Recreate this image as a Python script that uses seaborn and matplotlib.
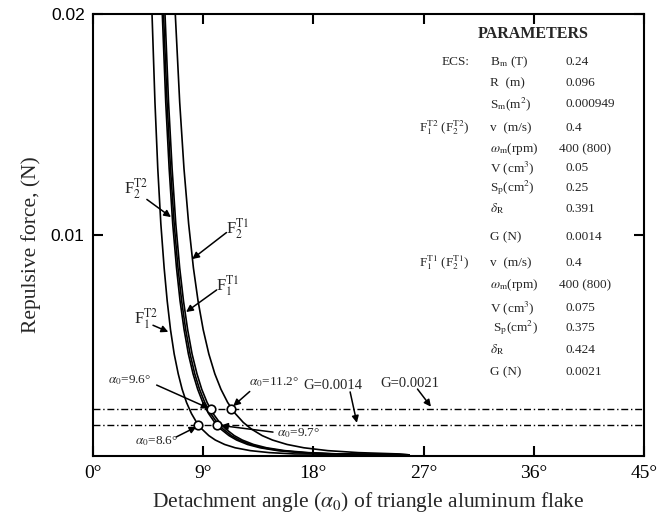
import matplotlib
matplotlib.use("Agg")
import matplotlib.pyplot as plt
import pandas as pd
import seaborn as sns

# ---------------- data ----------------
force_levels = [0.0200, 0.0160, 0.0130, 0.0105, 0.0085, 0.0070, 0.0057, 0.0046,
                0.0037, 0.0030, 0.0024, 0.0019, 0.0015, 0.0012, 0.0009, 0.0007,
                0.0005, 0.00035, 0.00022, 0.00013, 0.00007, 0.00003]

angle_F1_T2 = [4.82, 5.06, 5.29, 5.54, 5.81, 6.06, 6.33, 6.63, 6.96, 7.28, 7.64,
               8.04, 8.46, 8.89, 9.46, 9.99, 10.75, 11.61, 12.85, 14.41, 16.48, 25.8]
angle_F2_T2 = [5.66, 5.94, 6.22, 6.51, 6.82, 7.11, 7.44, 7.79, 8.17, 8.55, 8.97,
               9.44, 9.94, 10.43, 11.11, 11.73, 12.62, 13.64, 15.09, 16.92, 19.35, 25.8]
angle_mid = [5.76, 6.05, 6.33, 6.63, 6.94, 7.24, 7.57, 7.93, 8.31, 8.70, 9.13,
             9.61, 10.12, 10.62, 11.30, 11.94, 12.84, 13.88, 15.35, 17.21, 19.69, 25.8]
angle_F1_T1 = [5.88, 6.17, 6.46, 6.76, 7.08, 7.39, 7.73, 8.09, 8.49, 8.88, 9.32,
               9.81, 10.33, 10.84, 11.54, 12.19, 13.11, 14.17, 15.67, 17.57, 20.10, 25.8]
angle_F2_T1 = [6.72, 7.08, 7.43, 7.81, 8.20, 8.58, 9.00, 9.46, 9.95, 10.45, 11.00,
               11.62, 12.27, 12.93, 13.82, 14.66, 15.85, 17.22, 19.18, 21.68, 25.03, 25.8]

curve_names = ["F1_T2", "F2_T2", "mid", "F1_T1", "F2_T1"]
curve_angles = [angle_F1_T2, angle_F2_T2, angle_mid, angle_F1_T1, angle_F2_T1]

G_values = [0.0014, 0.0021]
alpha0_angles = [8.6, 10.1, 9.6, 11.3]
alpha0_forces = [0.0014, 0.0014, 0.0021, 0.0021]
alpha0_labels = ["8.6", "9.7", "9.6", "11.2"]

x_ticks = [0, 9, 18, 27, 36, 45]
x_tick_labels = ["0°", "9°", "18°", "27°", "36°", "45°"]
y_ticks = [0.01, 0.02]
y_tick_labels = ["0.01", "0.02"]

param_groups = ["ECS:", "", "",
                r"F$_1^{\mathrm{T2}}$ (F$_2^{\mathrm{T2}}$)", "", "", "", "", "",
                r"F$_1^{\mathrm{T1}}$ (F$_2^{\mathrm{T1}}$)", "", "", "", "", ""]
param_names = [r"B$_\mathrm{m}$ (T)", "R  (m)", r"S$_\mathrm{m}$(m$^2$)",
               "v  (m/s)", r"$\omega_\mathrm{m}$(rpm)", r"V (cm$^3$)", r"S$_\mathrm{p}$(cm$^2$)",
               r"$\delta_\mathrm{R}$", "G (N)",
               "v  (m/s)", r"$\omega_\mathrm{m}$(rpm)", r"V (cm$^3$)", r" S$_\mathrm{p}$(cm$^2$)",
               r"$\delta_\mathrm{R}$", "G (N)"]
param_values = ["0.24", "0.096", "0.000949",
                "0.4", "400 (800)", "0.05", "0.25", "0.391", "0.0014",
                "0.4", "400 (800)", "0.075", "0.375", "0.424", "0.0021"]

# ---------------- style ----------------
sns.set_theme(style="ticks")
plt.rcParams["font.family"] = ["Liberation Serif", "DejaVu Serif"]
plt.rcParams["mathtext.fontset"] = "stix"
plt.rcParams["axes.linewidth"] = 1.5

W, H = 666, 521
fig = plt.figure(figsize=(W / 100, H / 100), dpi=100)
fig.patch.set_facecolor("white")
L, R, T, B = 93, 644, 14, 455.5
ax = fig.add_axes([L / W, 1 - B / H, (R - L) / W, (B - T) / H])
ax.set_facecolor("white")


def fpx(x, y):
    return x / W, 1 - y / H


# curves
frames = [pd.DataFrame({"angle": a, "force": force_levels, "curve": n})
          for n, a in zip(curve_names, curve_angles)]
df = pd.concat(frames, ignore_index=True)
sns.lineplot(data=df, x="angle", y="force", units="curve", estimator=None,
             sort=False, color="black", lw=1.2, ax=ax, legend=False)

# G levels
for g in G_values:
    ax.axhline(g, color="black", lw=1.0, ls=(0, (5, 2, 1, 2)), zorder=2)

# intersection markers
sns.scatterplot(x=alpha0_angles, y=alpha0_forces, s=38, facecolor="white",
                edgecolor="black", linewidth=1.2, zorder=6, ax=ax)

ax.set_xlim(0, 45)
ax.set_ylim(0, 0.02)
ax.set_xticks(x_ticks)
ax.set_xticklabels(x_tick_labels, fontsize=14)
ax.set_yticks(y_ticks)
ax.set_yticklabels(y_tick_labels, fontsize=12.5, family="Liberation Sans")
ax.tick_params(direction="in", length=7, width=1.5, top=True, right=True,
               colors="black")
ax.tick_params(axis="x", pad=7)
ax.tick_params(axis="y", pad=6)
for s in ax.spines.values():
    s.set_linewidth(1.5)
    s.set_color("black")

ax.set_xlabel(r"Detachment angle ($\alpha_0$) of triangle aluminum flake", fontsize=15.5)
ax.set_ylabel("Repulsive force, (N)", fontsize=15.5)
ax.xaxis.set_label_coords(0.5, (B - 490) / (B - T))
ax.yaxis.set_label_coords((41 - L) / (R - L), (B - 245) / (B - T))

# curve labels with arrows
arrow = dict(arrowstyle="-|>", color="black", lw=1.1, mutation_scale=10,
             shrinkA=0, shrinkB=0)
curve_notes = [
    (r"F$_2^{\mathrm{T2}}$", (3.5, 0.0121), (4.4, 0.0116), (6.37, 0.0108)),
    (r"F$_2^{\mathrm{T1}}$", (11.8, 0.0103), (10.9, 0.0101), (8.1, 0.0089)),
    (r"F$_1^{\mathrm{T1}}$", (11.0, 0.0077), (10.1, 0.0075), (7.6, 0.0065)),
    (r"F$_1^{\mathrm{T2}}$", (4.3, 0.0062), (4.9, 0.0059), (6.15, 0.0056)),
]
for txt, tpos, start, tip in curve_notes:
    ax.text(*tpos, txt, fontsize=12, ha="center", va="center")
    ax.annotate("", xy=tip, xytext=start, arrowprops=arrow)

alpha_notes = [
    ((5.2, 0.00066), (6.8, 0.00084), (8.45, 0.0013)),
    ((16.8, 0.00102), (14.7, 0.00106), (10.45, 0.00136)),
    ((3.0, 0.00342), (5.2, 0.00319), (9.45, 0.00214)),
    ((14.8, 0.00333), (12.8, 0.00290), (11.45, 0.00224)),
]
for lab, (tpos, start, tip) in zip(alpha0_labels, alpha_notes):
    ax.text(*tpos, r"$\alpha_0$=" + lab + "°", fontsize=9.5, ha="center", va="center")
    ax.annotate("", xy=tip, xytext=start, arrowprops=arrow)

g_notes = [((19.6, 0.00319), (21.0, 0.00288), (21.55, 0.00148)),
           ((25.9, 0.00328), (26.5, 0.00301), (27.6, 0.00221))]
for g, (tpos, start, tip) in zip(G_values, g_notes):
    ax.text(*tpos, f"G={g}", fontsize=10.5, ha="center", va="center")
    ax.annotate("", xy=tip, xytext=start, arrowprops=arrow)

# parameters table
fig.text(*fpx(533, 34), "PARAMETERS", fontsize=11.5, fontweight="bold",
         ha="center", va="center")
row_y = [62, 83, 104, 128, 149, 168, 188, 209, 237, 263, 285, 308, 328, 350, 372]
for y, grp, name, val in zip(row_y, param_groups, param_names, param_values):
    if grp:
        fig.text(*fpx(470, y), grp, fontsize=9.5, ha="right", va="center")
    fig.text(*fpx(490, y), name, fontsize=9.5, ha="left", va="center")
    vx = 559 if "(" in val else 566
    fig.text(*fpx(vx, y), val, fontsize=9.5, ha="left", va="center")

fig.savefig("out.png", dpi=100, facecolor="white")
